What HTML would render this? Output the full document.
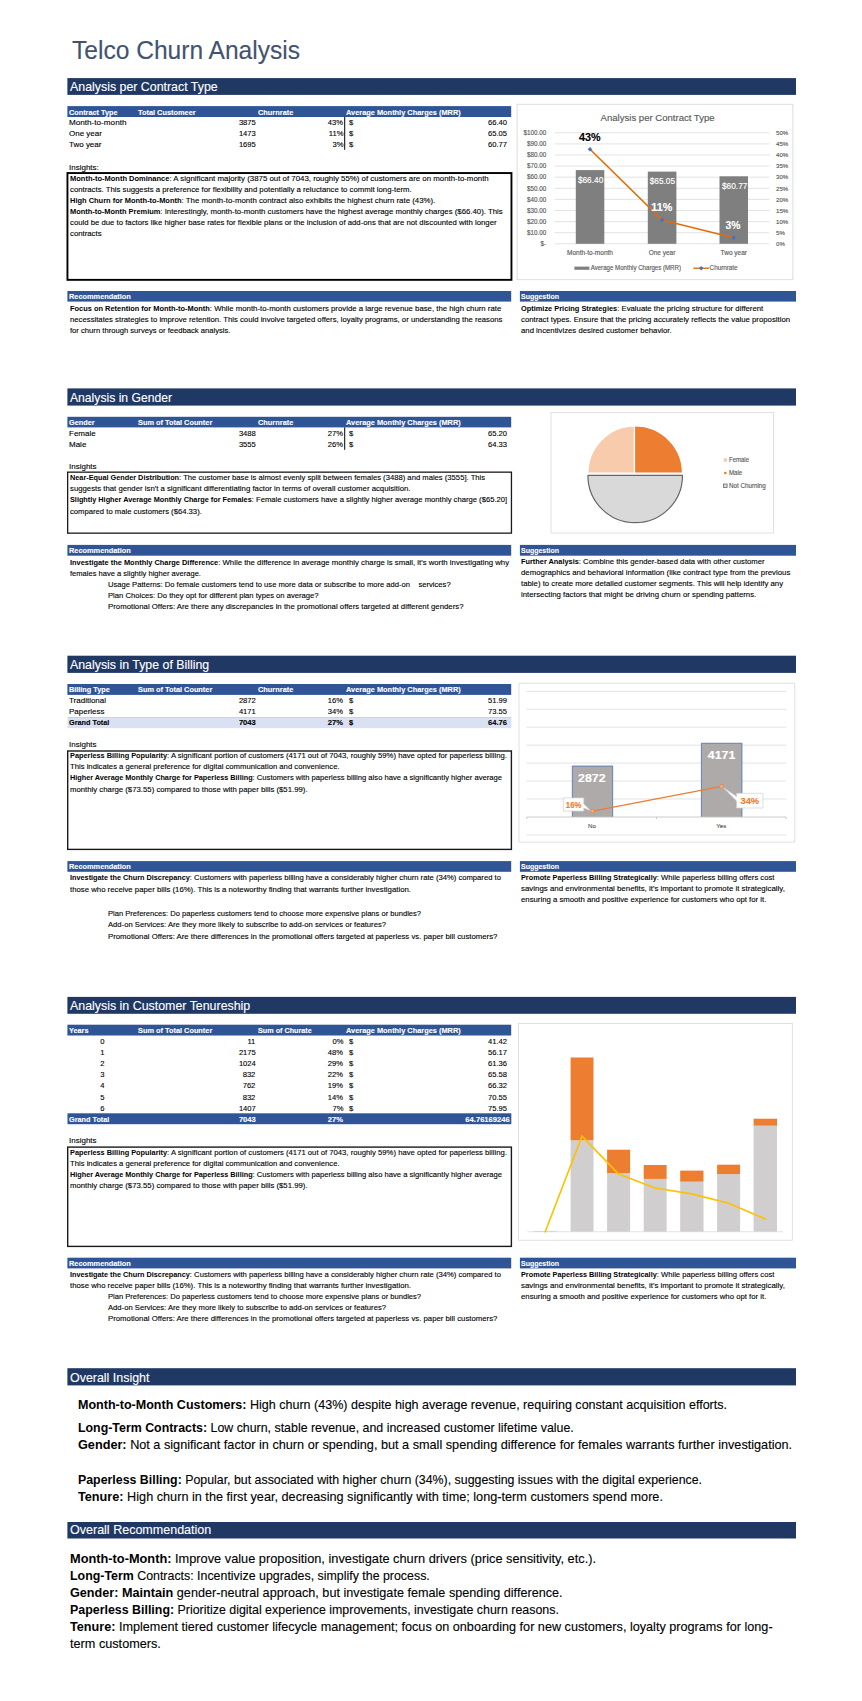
<!DOCTYPE html><html lang="en"><head><meta charset="utf-8"><title>Telco Churn Analysis</title><style>
html,body{margin:0;padding:0;background:#fff}
body{width:862px;height:1701px;position:relative;overflow:hidden;font-family:"Liberation Sans",sans-serif}
.r{position:absolute;box-sizing:border-box}
.t{position:absolute;white-space:nowrap;line-height:1;transform-origin:0 0;-webkit-text-stroke:.12px currentColor}
.t b{-webkit-text-stroke:0}
.t b.g{font-size:1em}
.t.ra{transform-origin:100% 0}
.t b{font-weight:700;font-size:.955em}
svg{position:absolute;left:0;top:0}
svg text{font-family:"Liberation Sans",sans-serif;stroke-width:.14px}
</style></head><body>
<svg width="862" height="1701" viewBox="0 0 862 1701">
<rect x="67.4" y="78.1" width="728.6" height="16.8" fill="#203864"/>
<rect x="67.4" y="388.4" width="728.6" height="17.2" fill="#203864"/>
<rect x="67.4" y="655.7" width="728.6" height="17.2" fill="#203864"/>
<rect x="67.4" y="996.9" width="728.6" height="16.9" fill="#203864"/>
<rect x="67.4" y="1368.2" width="728.6" height="17.2" fill="#203864"/>
<rect x="67.4" y="1522" width="728.6" height="16.5" fill="#203864"/>
<rect x="67.4" y="106.1" width="443.8" height="10.9" fill="#2f5597"/>
<rect x="67.4" y="416.8" width="443.8" height="10.6" fill="#2f5597"/>
<rect x="67.4" y="684" width="443.8" height="10.9" fill="#2f5597"/>
<rect x="67.4" y="1024.7" width="443.8" height="10.8" fill="#2f5597"/>
<rect x="344.2" y="117" width="1" height="32.8" fill="#000"/>
<rect x="344.2" y="427.4" width="1" height="22.4" fill="#000"/>
<rect x="67.5" y="717.2" width="443.8" height="10.9" fill="#d9e1f2"/>
<rect x="67.5" y="717" width="443.8" height="0.5" fill="#a9bde3"/>
<rect x="67.5" y="1113.3" width="443.8" height="10.9" fill="#2f5597"/>
<rect x="67.45" y="173.05" width="444" height="106.8" fill="none" stroke="#000" stroke-width="1.9"/>
<rect x="67.65" y="472.15" width="443.8" height="61" fill="none" stroke="#1a1a1a" stroke-width="1.3"/>
<rect x="67.7" y="751" width="443.7" height="98.4" fill="none" stroke="#1a1a1a" stroke-width="1.4"/>
<rect x="67.7" y="1147.1" width="443.7" height="99.3" fill="none" stroke="#1a1a1a" stroke-width="1.4"/>
<rect x="67.4" y="291" width="443.8" height="10.6" fill="#2f5597"/>
<rect x="519.9" y="291" width="276.1" height="10.6" fill="#2f5597"/>
<rect x="67.4" y="544.9" width="443.8" height="10.8" fill="#2f5597"/>
<rect x="519.9" y="544.9" width="276.1" height="10.8" fill="#2f5597"/>
<rect x="67.4" y="861.1" width="443.8" height="10.7" fill="#2f5597"/>
<rect x="519.9" y="861.1" width="276.1" height="10.7" fill="#2f5597"/>
<rect x="67.4" y="1257.7" width="443.8" height="10.7" fill="#2f5597"/>
<rect x="519.9" y="1257.7" width="276.1" height="10.7" fill="#2f5597"/>
<rect x="517.1" y="104.3" width="275.8" height="175.4" fill="#fff" stroke="#d9d9d9" stroke-width="0.9"/>
<text x="657.6" y="121" font-size="9.3" fill="#595959" stroke="#595959" text-anchor="middle" textLength="114" lengthAdjust="spacingAndGlyphs">Analysis per Contract Type</text>
<line x1="554.6" x2="769.3" y1="243.8" y2="243.8" stroke="#e0e0e0" stroke-width="0.9"/>
<text x="546.2" y="246.0" font-size="6.3" fill="#595959" stroke="#595959" text-anchor="end">$-</text>
<text x="776" y="246.0" font-size="6.1" fill="#595959" stroke="#595959">0%</text>
<line x1="554.6" x2="769.3" y1="232.7" y2="232.7" stroke="#e0e0e0" stroke-width="0.9"/>
<text x="546.2" y="234.9" font-size="6.3" fill="#595959" stroke="#595959" text-anchor="end">$10.00</text>
<text x="776" y="234.9" font-size="6.1" fill="#595959" stroke="#595959">5%</text>
<line x1="554.6" x2="769.3" y1="221.6" y2="221.6" stroke="#e0e0e0" stroke-width="0.9"/>
<text x="546.2" y="223.8" font-size="6.3" fill="#595959" stroke="#595959" text-anchor="end">$20.00</text>
<text x="776" y="223.8" font-size="6.1" fill="#595959" stroke="#595959">10%</text>
<line x1="554.6" x2="769.3" y1="210.5" y2="210.5" stroke="#e0e0e0" stroke-width="0.9"/>
<text x="546.2" y="212.7" font-size="6.3" fill="#595959" stroke="#595959" text-anchor="end">$30.00</text>
<text x="776" y="212.7" font-size="6.1" fill="#595959" stroke="#595959">15%</text>
<line x1="554.6" x2="769.3" y1="199.4" y2="199.4" stroke="#e0e0e0" stroke-width="0.9"/>
<text x="546.2" y="201.6" font-size="6.3" fill="#595959" stroke="#595959" text-anchor="end">$40.00</text>
<text x="776" y="201.6" font-size="6.1" fill="#595959" stroke="#595959">20%</text>
<line x1="554.6" x2="769.3" y1="188.3" y2="188.3" stroke="#e0e0e0" stroke-width="0.9"/>
<text x="546.2" y="190.5" font-size="6.3" fill="#595959" stroke="#595959" text-anchor="end">$50.00</text>
<text x="776" y="190.5" font-size="6.1" fill="#595959" stroke="#595959">25%</text>
<line x1="554.6" x2="769.3" y1="177.2" y2="177.2" stroke="#e0e0e0" stroke-width="0.9"/>
<text x="546.2" y="179.4" font-size="6.3" fill="#595959" stroke="#595959" text-anchor="end">$60.00</text>
<text x="776" y="179.4" font-size="6.1" fill="#595959" stroke="#595959">30%</text>
<line x1="554.6" x2="769.3" y1="166.1" y2="166.1" stroke="#e0e0e0" stroke-width="0.9"/>
<text x="546.2" y="168.3" font-size="6.3" fill="#595959" stroke="#595959" text-anchor="end">$70.00</text>
<text x="776" y="168.3" font-size="6.1" fill="#595959" stroke="#595959">35%</text>
<line x1="554.6" x2="769.3" y1="155.0" y2="155.0" stroke="#e0e0e0" stroke-width="0.9"/>
<text x="546.2" y="157.2" font-size="6.3" fill="#595959" stroke="#595959" text-anchor="end">$80.00</text>
<text x="776" y="157.2" font-size="6.1" fill="#595959" stroke="#595959">40%</text>
<line x1="554.6" x2="769.3" y1="143.9" y2="143.9" stroke="#e0e0e0" stroke-width="0.9"/>
<text x="546.2" y="146.1" font-size="6.3" fill="#595959" stroke="#595959" text-anchor="end">$90.00</text>
<text x="776" y="146.1" font-size="6.1" fill="#595959" stroke="#595959">45%</text>
<line x1="554.6" x2="769.3" y1="132.8" y2="132.8" stroke="#e0e0e0" stroke-width="0.9"/>
<text x="546.2" y="135.0" font-size="6.3" fill="#595959" stroke="#595959" text-anchor="end">$100.00</text>
<text x="776" y="135.0" font-size="6.1" fill="#595959" stroke="#595959">50%</text>
<rect x="575.8" y="170.1" width="28.5" height="73.7" fill="#7f7f7f"/>
<rect x="647.8" y="171.6" width="28.6" height="72.2" fill="#7f7f7f"/>
<rect x="719.5" y="176.3" width="28.5" height="67.5" fill="#7f7f7f"/>
<polyline points="590.0,149.3 662.0,219.9 733.6,237.8" fill="none" stroke="#e36c0a" stroke-width="1.5" stroke-linejoin="round"/>
<path d="M587.7,149.3 L590.0,147.0 L592.3,149.3 L590.0,151.60000000000002Z" fill="#4472c4"/>
<path d="M659.7,219.9 L662.0,217.6 L664.3,219.9 L662.0,222.20000000000002Z" fill="#4472c4"/>
<path d="M731.3000000000001,237.8 L733.6,235.5 L735.9,237.8 L733.6,240.10000000000002Z" fill="#4472c4"/>
<text x="590.6" y="182.6" font-size="8.3" fill="#fff" stroke="#fff" text-anchor="middle" textLength="25.4" lengthAdjust="spacingAndGlyphs">$66.40</text>
<text x="662.4" y="184" font-size="8.3" fill="#fff" stroke="#fff" text-anchor="middle" textLength="25.4" lengthAdjust="spacingAndGlyphs">$65.05</text>
<text x="734.7" y="188.5" font-size="8.3" fill="#fff" stroke="#fff" text-anchor="middle" textLength="25.4" lengthAdjust="spacingAndGlyphs">$60.77</text>
<text x="589.8" y="140.5" font-size="10.8" font-weight="700" fill="#000" stroke="#000" text-anchor="middle" textLength="21.6" lengthAdjust="spacingAndGlyphs">43%</text>
<text x="661.8" y="210.8" font-size="10.8" font-weight="700" fill="#fff" stroke="#fff" text-anchor="middle" textLength="21" lengthAdjust="spacingAndGlyphs">11%</text>
<text x="733" y="229.2" font-size="10.8" font-weight="700" fill="#fff" stroke="#fff" text-anchor="middle" textLength="15" lengthAdjust="spacingAndGlyphs">3%</text>
<text x="590" y="254.7" font-size="6.5" fill="#595959" stroke="#595959" text-anchor="middle">Month-to-month</text>
<text x="662" y="254.7" font-size="6.5" fill="#595959" stroke="#595959" text-anchor="middle">One year</text>
<text x="733.8" y="254.7" font-size="6.5" fill="#595959" stroke="#595959" text-anchor="middle">Two year</text>
<rect x="574.4" y="266.6" width="15" height="3.2" fill="#7f7f7f"/>
<text x="590.7" y="270.3" font-size="6.5" fill="#595959" stroke="#595959" textLength="90.3" lengthAdjust="spacingAndGlyphs">Average Monthly Charges (MRR)</text>
<line x1="693.4" x2="709" y1="268.2" y2="268.2" stroke="#e36c0a" stroke-width="1.4"/>
<path d="M699,268.2 L701.2,266 L703.4,268.2 L701.2,270.4Z" fill="#4472c4"/>
<text x="709.6" y="270.3" font-size="6.5" fill="#595959" stroke="#595959" textLength="28" lengthAdjust="spacingAndGlyphs">Churnrate</text>
<rect x="551" y="412.5" width="222.5" height="120.5" fill="#fff" stroke="#d9d9d9" stroke-width="0.8"/>
<path d="M634.5,473.2 L587.9000000000001,473.2 A47.3,47.3 0 0 1 634.5,425.9Z" fill="#f8cbad" stroke="#fff" stroke-width="1.2" stroke-linejoin="round"/>
<path d="M634.5,473.2 L634.5,425.9 A47.3,47.3 0 0 1 682.5,473.2Z" fill="#ed7d31" stroke="#fff" stroke-width="1.2" stroke-linejoin="round"/>
<path d="M587.9000000000001,475.4 L682.5,475.4 A47.3,47.3 0 0 1 587.9000000000001,475.4Z" fill="#d9d9d9" stroke="#666" stroke-width="1.2" stroke-linejoin="round"/>
<rect x="723.6" y="458.3" width="3.4" height="3.4" fill="#f8cbad"/>
<text x="729" y="462.4" font-size="6.5" fill="#595959" stroke="#595959" textLength="20" lengthAdjust="spacingAndGlyphs">Female</text>
<circle cx="725.3" cy="473" r="1.35" fill="#ed7d31"/>
<text x="729" y="475.3" font-size="6.5" fill="#595959" stroke="#595959" textLength="13.2" lengthAdjust="spacingAndGlyphs">Male</text>
<rect x="723.5" y="484" width="3.6" height="3.6" fill="#d9d9d9" stroke="#595959" stroke-width="0.7"/>
<text x="729" y="488.1" font-size="6.5" fill="#595959" stroke="#595959" textLength="36.8" lengthAdjust="spacingAndGlyphs">Not Churning</text>
<rect x="519" y="683.2" width="275.8" height="158.9" fill="#fff" stroke="#d9d9d9" stroke-width="0.8"/>
<line x1="526.7" x2="786.1" y1="799.0" y2="799.0" stroke="#e0e0e0" stroke-width="0.9"/>
<line x1="526.7" x2="786.1" y1="781.1" y2="781.1" stroke="#e0e0e0" stroke-width="0.9"/>
<line x1="526.7" x2="786.1" y1="763.1" y2="763.1" stroke="#e0e0e0" stroke-width="0.9"/>
<line x1="526.7" x2="786.1" y1="745.2" y2="745.2" stroke="#e0e0e0" stroke-width="0.9"/>
<line x1="526.7" x2="786.1" y1="727.2" y2="727.2" stroke="#e0e0e0" stroke-width="0.9"/>
<line x1="526.7" x2="786.1" y1="709.3" y2="709.3" stroke="#e0e0e0" stroke-width="0.9"/>
<line x1="526.7" x2="786.1" y1="691.4" y2="691.4" stroke="#e0e0e0" stroke-width="0.9"/>
<line x1="526.7" x2="786.1" y1="835.0" y2="835.0" stroke="#e0e0e0" stroke-width="0.9"/>
<path d="M572.0,817.0 L572.0,765.8 L613.0,765.8 L613.0,817.0Z" fill="#aeaaaa"/>
<path d="M572.3,817.0 L572.3,766.0999999999999 L612.7,766.0999999999999 L612.7,817.0" fill="none" stroke="#4472c4" stroke-width="0.7"/>
<path d="M701.1,817.0 L701.1,742.9 L742.2,742.9 L742.2,817.0Z" fill="#aeaaaa"/>
<path d="M701.4,817.0 L701.4,743.1999999999999 L741.9000000000001,743.1999999999999 L741.9000000000001,817.0" fill="none" stroke="#4472c4" stroke-width="0.7"/>
<path d="M526.7,817.0 H786.1 M526.7,817.0 v2 M656.5,817.0 v2 M786.1,817.0 v2" stroke="#bfbfbf" stroke-width="0.8" fill="none"/>
<text x="591.8" y="782.2" font-size="10.8" font-weight="700" fill="#fff" stroke="#fff" text-anchor="middle" textLength="27.5" lengthAdjust="spacingAndGlyphs">2872</text>
<text x="721.6" y="759.2" font-size="10.8" font-weight="700" fill="#fff" stroke="#fff" text-anchor="middle" textLength="27.5" lengthAdjust="spacingAndGlyphs">4171</text>
<line x1="592.5" y1="811.1" x2="721.6" y2="786.4" stroke="#ed7d31" stroke-width="1.2"/>
<path d="M563.3,797.9 H583.8 V804 L590.5,810.6 L583.8,808 V811.1 H563.3Z" fill="#fff" stroke="#d0d0d0" stroke-width="0.7" stroke-linejoin="round"/>
<text x="573.6" y="807.9" font-size="9" font-weight="700" fill="#ed7d31" stroke="#ed7d31" text-anchor="middle" textLength="15.6" lengthAdjust="spacingAndGlyphs">16%</text>
<path d="M736.6,793.3 H763 V808 H736.6 V801 L723.2,787.5 L736.6,796.5Z" fill="#fff" stroke="#d0d0d0" stroke-width="0.7" stroke-linejoin="round"/>
<text x="749.8" y="804.1" font-size="9" font-weight="700" fill="#ed7d31" stroke="#ed7d31" text-anchor="middle" textLength="18.6" lengthAdjust="spacingAndGlyphs">34%</text>
<circle cx="592.5" cy="811.1" r="1.9" fill="#f4b183" stroke="#ed7d31" stroke-width="0.7"/>
<circle cx="721.6" cy="786.4" r="1.9" fill="#f4b183" stroke="#ed7d31" stroke-width="0.7"/>
<text x="592" y="827.9" font-size="6.1" fill="#595959" stroke="#595959" text-anchor="middle">No</text>
<text x="721.3" y="827.9" font-size="6.1" fill="#595959" stroke="#595959" text-anchor="middle">Yes</text>
<rect x="518.4" y="1023.4" width="273.9" height="216.8" fill="#fff" stroke="#d9d9d9" stroke-width="0.8"/>
<rect x="533.7" y="1230.8999999999999" width="22.9" height="0.9" fill="#d0cece"/>
<rect x="570.6" y="1140.3" width="22.9" height="91.5" fill="#d0cece"/>
<rect x="570.6" y="1057.5" width="22.9" height="82.8" fill="#ed7d31"/>
<rect x="607.1" y="1173.0" width="23.0" height="58.8" fill="#d0cece"/>
<rect x="607.1" y="1149.7" width="23.0" height="23.3" fill="#ed7d31"/>
<rect x="643.7" y="1178.9" width="22.9" height="52.9" fill="#d0cece"/>
<rect x="643.7" y="1165.0" width="22.9" height="13.9" fill="#ed7d31"/>
<rect x="680.2" y="1181.7" width="23.3" height="50.1" fill="#d0cece"/>
<rect x="680.2" y="1170.6" width="23.3" height="11.1" fill="#ed7d31"/>
<rect x="717.1" y="1174.1" width="23.0" height="57.7" fill="#d0cece"/>
<rect x="717.1" y="1164.7" width="23.0" height="9.4" fill="#ed7d31"/>
<rect x="753.6" y="1125.7" width="23.4" height="106.1" fill="#d0cece"/>
<rect x="753.6" y="1118.7" width="23.4" height="7.0" fill="#ed7d31"/>
<line x1="527.4" x2="783.2" y1="1231.8" y2="1231.8" stroke="#d9d9d9" stroke-width="0.8"/>
<polyline points="545.2,1231.8 582.0,1136.1 618.6,1174.1 655.1,1188.0 691.7,1193.9 728.6,1203.3 765.5,1219.0" fill="none" stroke="#ffc000" stroke-width="1.6" stroke-linejoin="round" stroke-linecap="round"/>
</svg>
<div class="t" style="left:71.8px;top:38px;font-size:25.4px;color:#43536e;transform:scaleX(0.9675);">Telco Churn Analysis</div>
<div class="t" style="left:70.3px;top:81px;font-size:12.6px;color:#fff;transform:scaleX(0.9826);">Analysis per Contract Type</div>
<div class="t" style="left:70.3px;top:392px;font-size:12.6px;color:#fff;transform:scaleX(0.9650);">Analysis in Gender</div>
<div class="t" style="left:70.3px;top:659px;font-size:12.6px;color:#fff;transform:scaleX(0.9814);">Analysis in Type of Billing</div>
<div class="t" style="left:70.3px;top:1000px;font-size:12.6px;color:#fff;transform:scaleX(0.9842);">Analysis in Customer Tenureship</div>
<div class="t" style="left:70.3px;top:1372px;font-size:12.1px;color:#fff;transform:scaleX(1.0280);">Overall Insight</div>
<div class="t" style="left:70.3px;top:1524px;font-size:12.1px;color:#fff;transform:scaleX(1.0351);">Overall Recommendation</div>
<div class="t" style="left:69px;top:109px;font-size:8px;color:#fff;font-weight:700;transform:scaleX(0.9125);">Contract Type</div>
<div class="t" style="left:137.9px;top:109px;font-size:8px;color:#fff;font-weight:700;transform:scaleX(0.9221);">Total Customeer</div>
<div class="t" style="left:258px;top:109px;font-size:8px;color:#fff;font-weight:700;transform:scaleX(0.9242);">Churnrate</div>
<div class="t" style="left:345.5px;top:109px;font-size:8px;color:#fff;font-weight:700;transform:scaleX(0.9238);">Average Monthly Charges (MRR)</div>
<div class="t" style="left:69px;top:419px;font-size:8px;color:#fff;font-weight:700;transform:scaleX(0.9116);">Gender</div>
<div class="t" style="left:137.9px;top:419px;font-size:8px;color:#fff;font-weight:700;transform:scaleX(0.9200);">Sum of Total Counter</div>
<div class="t" style="left:258px;top:419px;font-size:8px;color:#fff;font-weight:700;transform:scaleX(0.9242);">Churnrate</div>
<div class="t" style="left:345.5px;top:419px;font-size:8px;color:#fff;font-weight:700;transform:scaleX(0.9238);">Average Monthly Charges (MRR)</div>
<div class="t" style="left:69px;top:686px;font-size:8px;color:#fff;font-weight:700;transform:scaleX(0.9116);">Billing Type</div>
<div class="t" style="left:137.9px;top:686px;font-size:8px;color:#fff;font-weight:700;transform:scaleX(0.9200);">Sum of Total Counter</div>
<div class="t" style="left:258px;top:686px;font-size:8px;color:#fff;font-weight:700;transform:scaleX(0.9242);">Churnrate</div>
<div class="t" style="left:345.5px;top:686px;font-size:8px;color:#fff;font-weight:700;transform:scaleX(0.9238);">Average Monthly Charges (MRR)</div>
<div class="t" style="left:69px;top:1027px;font-size:8px;color:#fff;font-weight:700;transform:scaleX(0.9116);">Years</div>
<div class="t" style="left:137.9px;top:1027px;font-size:8px;color:#fff;font-weight:700;transform:scaleX(0.9200);">Sum of Total Counter</div>
<div class="t" style="left:258px;top:1027px;font-size:8px;color:#fff;font-weight:700;transform:scaleX(0.9025);">Sum of Churate</div>
<div class="t" style="left:345.5px;top:1027px;font-size:8px;color:#fff;font-weight:700;transform:scaleX(0.9238);">Average Monthly Charges (MRR)</div>
<div class="t" style="left:69.3px;top:119px;font-size:8px;transform:scaleX(1.0175);">Month-to-month</div>
<div class="t ra" style="right:606.5px;top:119px;font-size:8px;transform:scaleX(0.9500);">3875</div>
<div class="t ra" style="right:518.8px;top:119px;font-size:8px;transform:scaleX(0.9500);">43%</div>
<div class="t" style="left:348.8px;top:119px;font-size:8px;transform:scaleX(0.9500);">$</div>
<div class="t ra" style="right:355px;top:119px;font-size:8px;transform:scaleX(0.9500);">66.40</div>
<div class="t" style="left:69.3px;top:130px;font-size:8px;transform:scaleX(0.9990);">One year</div>
<div class="t ra" style="right:606.5px;top:130px;font-size:8px;transform:scaleX(0.9500);">1473</div>
<div class="t ra" style="right:518.8px;top:130px;font-size:8px;transform:scaleX(0.9500);">11%</div>
<div class="t" style="left:348.8px;top:130px;font-size:8px;transform:scaleX(0.9500);">$</div>
<div class="t ra" style="right:355px;top:130px;font-size:8px;transform:scaleX(0.9500);">65.05</div>
<div class="t" style="left:69.3px;top:141px;font-size:8px;transform:scaleX(0.9990);">Two year</div>
<div class="t ra" style="right:606.5px;top:141px;font-size:8px;transform:scaleX(0.9500);">1695</div>
<div class="t ra" style="right:518.8px;top:141px;font-size:8px;transform:scaleX(0.9500);">3%</div>
<div class="t" style="left:348.8px;top:141px;font-size:8px;transform:scaleX(0.9500);">$</div>
<div class="t ra" style="right:355px;top:141px;font-size:8px;transform:scaleX(0.9500);">60.77</div>
<div class="t" style="left:69.3px;top:430px;font-size:8px;transform:scaleX(0.9990);">Female</div>
<div class="t ra" style="right:606.5px;top:430px;font-size:8px;transform:scaleX(0.9500);">3488</div>
<div class="t ra" style="right:518.8px;top:430px;font-size:8px;transform:scaleX(0.9500);">27%</div>
<div class="t" style="left:348.8px;top:430px;font-size:8px;transform:scaleX(0.9500);">$</div>
<div class="t ra" style="right:355px;top:430px;font-size:8px;transform:scaleX(0.9500);">65.20</div>
<div class="t" style="left:69.3px;top:441px;font-size:8px;transform:scaleX(0.9990);">Male</div>
<div class="t ra" style="right:606.5px;top:441px;font-size:8px;transform:scaleX(0.9500);">3555</div>
<div class="t ra" style="right:518.8px;top:441px;font-size:8px;transform:scaleX(0.9500);">26%</div>
<div class="t" style="left:348.8px;top:441px;font-size:8px;transform:scaleX(0.9500);">$</div>
<div class="t ra" style="right:355px;top:441px;font-size:8px;transform:scaleX(0.9500);">64.33</div>
<div class="t" style="left:69.3px;top:697px;font-size:8px;transform:scaleX(0.9990);">Traditional</div>
<div class="t ra" style="right:606.5px;top:697px;font-size:8px;transform:scaleX(0.9500);">2872</div>
<div class="t ra" style="right:518.8px;top:697px;font-size:8px;transform:scaleX(0.9500);">16%</div>
<div class="t" style="left:348.8px;top:697px;font-size:8px;transform:scaleX(0.9500);">$</div>
<div class="t ra" style="right:355px;top:697px;font-size:8px;transform:scaleX(0.9500);">51.99</div>
<div class="t" style="left:69.3px;top:708px;font-size:8px;transform:scaleX(0.9990);">Paperless</div>
<div class="t ra" style="right:606.5px;top:708px;font-size:8px;transform:scaleX(0.9500);">4171</div>
<div class="t ra" style="right:518.8px;top:708px;font-size:8px;transform:scaleX(0.9500);">34%</div>
<div class="t" style="left:348.8px;top:708px;font-size:8px;transform:scaleX(0.9500);">$</div>
<div class="t ra" style="right:355px;top:708px;font-size:8px;transform:scaleX(0.9500);">73.55</div>
<div class="t" style="left:69.3px;top:719px;font-size:8px;font-weight:700;transform:scaleX(0.9116);">Grand Total</div>
<div class="t ra" style="right:606.5px;top:719px;font-size:8px;font-weight:700;transform:scaleX(0.9500);">7043</div>
<div class="t ra" style="right:518.8px;top:719px;font-size:8px;font-weight:700;transform:scaleX(0.9500);">27%</div>
<div class="t" style="left:348.8px;top:719px;font-size:8px;font-weight:700;transform:scaleX(0.9500);">$</div>
<div class="t ra" style="right:355px;top:719px;font-size:8px;font-weight:700;transform:scaleX(0.9500);">64.76</div>
<div class="t ra" style="right:757.4px;top:1038px;font-size:8px;transform:scaleX(0.9500);">0</div>
<div class="t ra" style="right:606.5px;top:1038px;font-size:8px;transform:scaleX(0.9500);">11</div>
<div class="t ra" style="right:518.8px;top:1038px;font-size:8px;transform:scaleX(0.9500);">0%</div>
<div class="t" style="left:348.8px;top:1038px;font-size:8px;transform:scaleX(0.9500);">$</div>
<div class="t ra" style="right:355px;top:1038px;font-size:8px;transform:scaleX(0.9500);">41.42</div>
<div class="t ra" style="right:757.4px;top:1049px;font-size:8px;transform:scaleX(0.9500);">1</div>
<div class="t ra" style="right:606.5px;top:1049px;font-size:8px;transform:scaleX(0.9500);">2175</div>
<div class="t ra" style="right:518.8px;top:1049px;font-size:8px;transform:scaleX(0.9500);">48%</div>
<div class="t" style="left:348.8px;top:1049px;font-size:8px;transform:scaleX(0.9500);">$</div>
<div class="t ra" style="right:355px;top:1049px;font-size:8px;transform:scaleX(0.9500);">56.17</div>
<div class="t ra" style="right:757.4px;top:1060px;font-size:8px;transform:scaleX(0.9500);">2</div>
<div class="t ra" style="right:606.5px;top:1060px;font-size:8px;transform:scaleX(0.9500);">1024</div>
<div class="t ra" style="right:518.8px;top:1060px;font-size:8px;transform:scaleX(0.9500);">29%</div>
<div class="t" style="left:348.8px;top:1060px;font-size:8px;transform:scaleX(0.9500);">$</div>
<div class="t ra" style="right:355px;top:1060px;font-size:8px;transform:scaleX(0.9500);">61.36</div>
<div class="t ra" style="right:757.4px;top:1071px;font-size:8px;transform:scaleX(0.9500);">3</div>
<div class="t ra" style="right:606.5px;top:1071px;font-size:8px;transform:scaleX(0.9500);">832</div>
<div class="t ra" style="right:518.8px;top:1071px;font-size:8px;transform:scaleX(0.9500);">22%</div>
<div class="t" style="left:348.8px;top:1071px;font-size:8px;transform:scaleX(0.9500);">$</div>
<div class="t ra" style="right:355px;top:1071px;font-size:8px;transform:scaleX(0.9500);">65.58</div>
<div class="t ra" style="right:757.4px;top:1082px;font-size:8px;transform:scaleX(0.9500);">4</div>
<div class="t ra" style="right:606.5px;top:1082px;font-size:8px;transform:scaleX(0.9500);">762</div>
<div class="t ra" style="right:518.8px;top:1082px;font-size:8px;transform:scaleX(0.9500);">19%</div>
<div class="t" style="left:348.8px;top:1082px;font-size:8px;transform:scaleX(0.9500);">$</div>
<div class="t ra" style="right:355px;top:1082px;font-size:8px;transform:scaleX(0.9500);">66.32</div>
<div class="t ra" style="right:757.4px;top:1094px;font-size:8px;transform:scaleX(0.9500);">5</div>
<div class="t ra" style="right:606.5px;top:1094px;font-size:8px;transform:scaleX(0.9500);">832</div>
<div class="t ra" style="right:518.8px;top:1094px;font-size:8px;transform:scaleX(0.9500);">14%</div>
<div class="t" style="left:348.8px;top:1094px;font-size:8px;transform:scaleX(0.9500);">$</div>
<div class="t ra" style="right:355px;top:1094px;font-size:8px;transform:scaleX(0.9500);">70.55</div>
<div class="t ra" style="right:757.4px;top:1105px;font-size:8px;transform:scaleX(0.9500);">6</div>
<div class="t ra" style="right:606.5px;top:1105px;font-size:8px;transform:scaleX(0.9500);">1407</div>
<div class="t ra" style="right:518.8px;top:1105px;font-size:8px;transform:scaleX(0.9500);">7%</div>
<div class="t" style="left:348.8px;top:1105px;font-size:8px;transform:scaleX(0.9500);">$</div>
<div class="t ra" style="right:355px;top:1105px;font-size:8px;transform:scaleX(0.9500);">75.95</div>
<div class="t" style="left:69.3px;top:1116px;font-size:8px;color:#fff;font-weight:700;transform:scaleX(0.9116);">Grand Total</div>
<div class="t ra" style="right:606.5px;top:1116px;font-size:8px;color:#fff;font-weight:700;transform:scaleX(0.9500);">7043</div>
<div class="t ra" style="right:518.8px;top:1116px;font-size:8px;color:#fff;font-weight:700;transform:scaleX(0.9500);">27%</div>
<div class="t ra" style="right:352.2px;top:1116px;font-size:8px;color:#fff;font-weight:700;transform:scaleX(0.9500);">64.76169246</div>
<div class="t" style="left:69.3px;top:164px;font-size:8px;transform:scaleX(0.9990);">Insights:</div>
<div class="t" style="left:69.3px;top:463px;font-size:8px;transform:scaleX(0.9990);">Insights</div>
<div class="t" style="left:69.3px;top:741px;font-size:8px;transform:scaleX(0.9990);">Insights</div>
<div class="t" style="left:69.3px;top:1137px;font-size:8px;transform:scaleX(0.9990);">Insights</div>
<div class="t" style="left:69.5px;top:175px;font-size:8px;transform:scaleX(0.9822);"><b>Month-to-Month Dominance</b>: A significant majority (3875 out of 7043, roughly 55%) of customers are on month-to-month</div>
<div class="t" style="left:69.5px;top:186px;font-size:8px;transform:scaleX(0.9708);">contracts. This suggests a preference for flexibility and potentially a reluctance to commit long-term.</div>
<div class="t" style="left:69.5px;top:197px;font-size:8px;transform:scaleX(0.9792);"><b>High Churn for Month-to-Month</b>: The month-to-month contract also exhibits the highest churn rate (43%).</div>
<div class="t" style="left:69.5px;top:208px;font-size:8px;transform:scaleX(0.9740);"><b>Month-to-Month Premium</b>: Interestingly, month-to-month customers have the highest average monthly charges ($66.40). This</div>
<div class="t" style="left:69.5px;top:219px;font-size:8px;transform:scaleX(0.9698);">could be due to factors like higher base rates for flexible plans or the inclusion of add-ons that are not discounted with longer</div>
<div class="t" style="left:69.5px;top:230px;font-size:8px;transform:scaleX(0.9711);">contracts</div>
<div class="t" style="left:69.5px;top:474px;font-size:8px;transform:scaleX(0.9568);"><b>Near-Equal Gender Distribution</b>: The customer base is almost evenly split between females (3488) and males (3555]. This</div>
<div class="t" style="left:69.5px;top:485px;font-size:8px;transform:scaleX(0.9717);">suggests that gender isn't a significant differentiating factor in terms of overall customer acquisition.</div>
<div class="t" style="left:69.5px;top:496px;font-size:8px;transform:scaleX(0.9558);"><b>Slightly Higher Average Monthly Charge for Females</b>: Female customers have a slightly higher average monthly charge ($65.20]</div>
<div class="t" style="left:69.5px;top:508px;font-size:8px;transform:scaleX(0.9594);">compared to male customers ($64.33).</div>
<div class="t" style="left:69.5px;top:752px;font-size:8px;transform:scaleX(0.9623);"><b>Paperless Billing Popularity</b>: A significant portion of customers (4171 out of 7043, roughly 59%) have opted for paperless billing.</div>
<div class="t" style="left:69.5px;top:763px;font-size:8px;transform:scaleX(0.9607);">This indicates a general preference for digital communication and convenience.</div>
<div class="t" style="left:69.5px;top:774px;font-size:8px;transform:scaleX(0.9540);"><b>Higher Average Monthly Charge for Paperless Billing</b>: Customers with paperless billing also have a significantly higher average</div>
<div class="t" style="left:69.5px;top:786px;font-size:8px;transform:scaleX(0.9712);">monthly charge ($73.55) compared to those with paper bills ($51.99).</div>
<div class="t" style="left:69.5px;top:1149px;font-size:8px;transform:scaleX(0.9623);"><b>Paperless Billing Popularity</b>: A significant portion of customers (4171 out of 7043, roughly 59%) have opted for paperless billing.</div>
<div class="t" style="left:69.5px;top:1160px;font-size:8px;transform:scaleX(0.9607);">This indicates a general preference for digital communication and convenience.</div>
<div class="t" style="left:69.5px;top:1171px;font-size:8px;transform:scaleX(0.9540);"><b>Higher Average Monthly Charge for Paperless Billing</b>: Customers with paperless billing also have a significantly higher average</div>
<div class="t" style="left:69.5px;top:1182px;font-size:8px;transform:scaleX(0.9712);">monthly charge ($73.55) compared to those with paper bills ($51.99).</div>
<div class="t" style="left:69.2px;top:293px;font-size:8px;color:#fff;font-weight:700;transform:scaleX(0.9216);">Recommendation</div>
<div class="t" style="left:521.3px;top:293px;font-size:8px;color:#fff;font-weight:700;transform:scaleX(0.8732);">Suggestion</div>
<div class="t" style="left:69.2px;top:547px;font-size:8px;color:#fff;font-weight:700;transform:scaleX(0.9216);">Recommendation</div>
<div class="t" style="left:521.3px;top:547px;font-size:8px;color:#fff;font-weight:700;transform:scaleX(0.8732);">Suggestion</div>
<div class="t" style="left:69.2px;top:863px;font-size:8px;color:#fff;font-weight:700;transform:scaleX(0.9216);">Recommendation</div>
<div class="t" style="left:521.3px;top:863px;font-size:8px;color:#fff;font-weight:700;transform:scaleX(0.8732);">Suggestion</div>
<div class="t" style="left:69.2px;top:1260px;font-size:8px;color:#fff;font-weight:700;transform:scaleX(0.9216);">Recommendation</div>
<div class="t" style="left:521.3px;top:1260px;font-size:8px;color:#fff;font-weight:700;transform:scaleX(0.8732);">Suggestion</div>
<div class="t" style="left:69.5px;top:305px;font-size:8px;transform:scaleX(0.9738);"><b>Focus on Retention for Month-to-Month</b>: While month-to-month customers provide a large revenue base, the high churn rate</div>
<div class="t" style="left:69.5px;top:316px;font-size:8px;transform:scaleX(0.9663);">necessitates strategies to improve retention. This could involve targeted offers, loyalty programs, or understanding the reasons</div>
<div class="t" style="left:69.5px;top:327px;font-size:8px;transform:scaleX(0.9546);">for churn through surveys or feedback analysis.</div>
<div class="t" style="left:521.4px;top:305px;font-size:8px;transform:scaleX(0.9699);"><b>Optimize Pricing Strategies</b>: Evaluate the pricing structure for different</div>
<div class="t" style="left:521.4px;top:316px;font-size:8px;transform:scaleX(0.9712);">contract types. Ensure that the pricing accurately reflects the value proposition</div>
<div class="t" style="left:521.4px;top:327px;font-size:8px;transform:scaleX(0.9707);">and incentivizes desired customer behavior.</div>
<div class="t" style="left:69.5px;top:559px;font-size:8px;transform:scaleX(0.9717);"><b>Investigate the Monthly Charge Difference</b>: While the difference in average monthly charge is small, it's worth investigating why</div>
<div class="t" style="left:69.5px;top:570px;font-size:8px;transform:scaleX(0.9436);">females have a slightly higher average.</div>
<div class="t" style="left:107.7px;top:581px;font-size:8px;transform:scaleX(0.9513);">Usage Patterns: Do female customers tend to use more data or subscribe to more add-on&nbsp;&nbsp;&nbsp;&nbsp;services?</div>
<div class="t" style="left:107.7px;top:592px;font-size:8px;transform:scaleX(0.9554);">Plan Choices: Do they opt for different plan types on average?</div>
<div class="t" style="left:107.7px;top:603px;font-size:8px;transform:scaleX(0.9750);">Promotional Offers: Are there any discrepancies in the promotional offers targeted at different genders?</div>
<div class="t" style="left:521.4px;top:558px;font-size:8px;transform:scaleX(0.9652);"><b>Further Analysis</b>: Combine this gender-based data with other customer</div>
<div class="t" style="left:521.4px;top:569px;font-size:8px;transform:scaleX(0.9770);">demographics and behavioral information (like contract type from the previous</div>
<div class="t" style="left:521.4px;top:580px;font-size:8px;transform:scaleX(0.9747);">table) to create more detailed customer segments. This will help identify any</div>
<div class="t" style="left:521.4px;top:591px;font-size:8px;transform:scaleX(0.9760);">intersecting factors that might be driving churn or spending patterns.</div>
<div class="t" style="left:69.5px;top:874px;font-size:8px;transform:scaleX(0.9556);"><b>Investigate the Churn Discrepancy</b>: Customers with paperless billing have a considerably higher churn rate (34%) compared to</div>
<div class="t" style="left:69.5px;top:886px;font-size:8px;transform:scaleX(0.9722);">those who receive paper bills (16%). This is a noteworthy finding that warrants further investigation.</div>
<div class="t" style="left:107.7px;top:910px;font-size:8px;transform:scaleX(0.9461);">Plan Preferences: Do paperless customers tend to choose more expensive plans or bundles?</div>
<div class="t" style="left:107.7px;top:921px;font-size:8px;transform:scaleX(0.9559);">Add-on Services: Are they more likely to subscribe to add-on services or features?</div>
<div class="t" style="left:107.7px;top:933px;font-size:8px;transform:scaleX(0.9719);">Promotional Offers: Are there differences in the promotional offers targeted at paperless vs. paper bill customers?</div>
<div class="t" style="left:521.4px;top:874px;font-size:8px;transform:scaleX(0.9561);"><b>Promote Paperless Billing Strategically</b>: While paperless billing offers cost</div>
<div class="t" style="left:521.4px;top:885px;font-size:8px;transform:scaleX(0.9855);">savings and environmental benefits, it's important to promote it strategically,</div>
<div class="t" style="left:521.4px;top:896px;font-size:8px;transform:scaleX(0.9696);">ensuring a smooth and positive experience for customers who opt for it.</div>
<div class="t" style="left:69.5px;top:1271px;font-size:8px;transform:scaleX(0.9556);"><b>Investigate the Churn Discrepancy</b>: Customers with paperless billing have a considerably higher churn rate (34%) compared to</div>
<div class="t" style="left:69.5px;top:1282px;font-size:8px;transform:scaleX(0.9722);">those who receive paper bills (16%). This is a noteworthy finding that warrants further investigation.</div>
<div class="t" style="left:107.7px;top:1293px;font-size:8px;transform:scaleX(0.9461);">Plan Preferences: Do paperless customers tend to choose more expensive plans or bundles?</div>
<div class="t" style="left:107.7px;top:1304px;font-size:8px;transform:scaleX(0.9559);">Add-on Services: Are they more likely to subscribe to add-on services or features?</div>
<div class="t" style="left:107.7px;top:1315px;font-size:8px;transform:scaleX(0.9719);">Promotional Offers: Are there differences in the promotional offers targeted at paperless vs. paper bill customers?</div>
<div class="t" style="left:521.4px;top:1271px;font-size:8px;transform:scaleX(0.9561);"><b>Promote Paperless Billing Strategically</b>: While paperless billing offers cost</div>
<div class="t" style="left:521.4px;top:1282px;font-size:8px;transform:scaleX(0.9855);">savings and environmental benefits, it's important to promote it strategically,</div>
<div class="t" style="left:521.4px;top:1293px;font-size:8px;transform:scaleX(0.9696);">ensuring a smooth and positive experience for customers who opt for it.</div>
<div class="t" style="left:77.6px;top:1399px;font-size:12.6px;transform:scaleX(0.9953);"><b class="g">Month-to-Month Customers:</b> High churn (43%) despite high average revenue, requiring constant acquisition efforts.</div>
<div class="t" style="left:77.6px;top:1422px;font-size:12.6px;transform:scaleX(0.9829);"><b class="g">Long-Term Contracts:</b> Low churn, stable revenue, and increased customer lifetime value.</div>
<div class="t" style="left:77.6px;top:1439px;font-size:12.6px;transform:scaleX(1.0064);"><b class="g">Gender:</b> Not a significant factor in churn or spending, but a small spending difference for females warrants further investigation.</div>
<div class="t" style="left:77.6px;top:1474px;font-size:12.6px;transform:scaleX(0.9817);"><b class="g">Paperless Billing:</b> Popular, but associated with higher churn (34%), suggesting issues with the digital experience.</div>
<div class="t" style="left:77.6px;top:1491px;font-size:12.6px;transform:scaleX(1.0073);"><b class="g">Tenure:</b> High churn in the first year, decreasing significantly with time; long-term customers spend more.</div>
<div class="t" style="left:70.1px;top:1553px;font-size:12.6px;transform:scaleX(1.0148);"><b class="g">Month-to-Month:</b> Improve value proposition, investigate churn drivers (price sensitivity, etc.).</div>
<div class="t" style="left:70.1px;top:1570px;font-size:12.6px;transform:scaleX(0.9835);"><b class="g">Long-Term</b> Contracts: Incentivize upgrades, simplify the process.</div>
<div class="t" style="left:70.1px;top:1587px;font-size:12.6px;transform:scaleX(1.0043);"><b class="g">Gender: Maintain</b> gender-neutral approach, but investigate female spending difference.</div>
<div class="t" style="left:70.1px;top:1604px;font-size:12.6px;transform:scaleX(0.9851);"><b class="g">Paperless Billing:</b> Prioritize digital experience improvements, investigate churn reasons.</div>
<div class="t" style="left:70.1px;top:1621px;font-size:12.6px;transform:scaleX(1.0041);"><b class="g">Tenure:</b> Implement tiered customer lifecycle management; focus on onboarding for new customers, loyalty programs for long-</div>
<div class="t" style="left:70.1px;top:1638px;font-size:12.6px;transform:scaleX(1.0068);">term customers.</div>
</body></html>
